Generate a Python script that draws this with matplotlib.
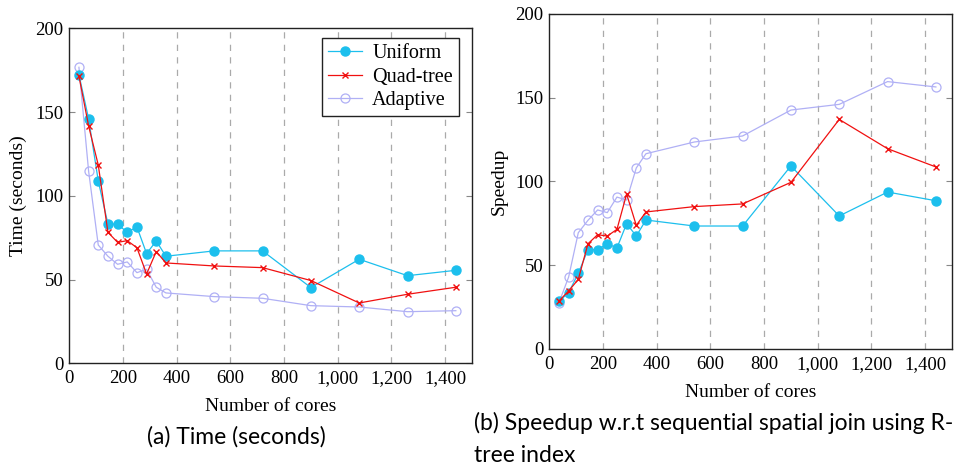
"""Time and speedup of the spatial join by number of cores (two panels)."""

import matplotlib
matplotlib.use("Agg")
import matplotlib.pyplot as plt

cores = [36, 72, 108, 144, 180, 216, 252, 288, 324, 360, 540, 720, 900, 1080, 1260, 1440]

time_uniform = [172.3, 146.0, 108.9, 83.2, 83.0, 78.2, 81.4, 65.5, 73.0, 63.9,
                67.1, 67.1, 45.2, 62.1, 52.3, 55.5]
time_quadtree = [171.5, 141.7, 118.4, 78.2, 72.2, 73.2, 69.0, 53.3, 66.7, 59.9,
                 58.1, 57.1, 49.4, 36.0, 41.2, 45.4]
time_adaptive = [176.7, 114.8, 70.6, 63.9, 59.1, 60.5, 54.1, 56.1, 45.4, 42.0,
                 39.8, 38.8, 34.4, 33.6, 30.8, 31.4]

speed_uniform = [28.3, 33.5, 45.0, 59.2, 59.2, 62.7, 60.2, 74.7, 67.3, 76.9,
                 73.3, 73.3, 109.2, 79.3, 93.6, 88.4]
speed_quadtree = [28.5, 34.5, 41.4, 62.7, 68.1, 67.3, 71.3, 92.4, 73.7, 81.7,
                  84.9, 86.5, 99.4, 137.0, 119.5, 108.6]
speed_adaptive = [27.5, 42.8, 69.3, 76.7, 82.9, 81.3, 90.6, 88.8, 108.0, 116.5,
                  123.5, 127.1, 142.6, 146.0, 159.6, 156.4]

x_ticks = [0, 200, 400, 600, 800, 1000, 1200, 1400]
y_ticks = [0, 50, 100, 150, 200]

SERIF = ["Liberation Serif", "DejaVu Serif"]
CAPTION = ["Lato", "DejaVu Sans"]
plt.rcParams["font.family"] = SERIF

CYAN = "#1cbfed"
RED = "#f01010"
LAVENDER = "#b0b0f5"


def draw_panel(ax, uniform, quadtree, adaptive, ylabel):
    ax.plot(cores, uniform, color=CYAN, lw=0.9, marker="o", ms=6.5,
            mfc=CYAN, mec=CYAN, label="Uniform", zorder=3)
    ax.plot(cores, quadtree, color=RED, lw=0.9, marker="x", ms=4, mew=1.0,
            label="Quad-tree", zorder=4)
    ax.plot(cores, adaptive, color=LAVENDER, lw=0.9, marker="o", ms=6.5,
            mfc="none", mec=LAVENDER, mew=0.9, label="Adaptive", zorder=2)

    ax.set_xlim(0, 1500)
    ax.set_ylim(0, 200)
    ax.set_xticks(x_ticks)
    ax.set_xticklabels([f"{t:,}" for t in x_ticks])
    ax.set_yticks(y_ticks)
    ax.tick_params(labelsize=13.5)
    ax.tick_params(direction="in", length=4, color="#888888", top=True, right=True,
                   pad=4)
    ax.tick_params(axis="x", length=0, pad=5)
    for x in x_ticks[1:]:
        ax.axvline(x, color="#aaaaaa", lw=0.9, ls=(0, (5, 5)), zorder=1)
    for s in ax.spines.values():
        s.set_linewidth(1.0)
        s.set_color("#222222")
    ax.set_xlabel("Number of cores", fontsize=14, labelpad=8)
    ax.set_ylabel(ylabel, fontsize=14, labelpad=6)


fig = plt.figure(figsize=(9.62, 4.71), dpi=100)
ax1 = fig.add_axes([0.072, 0.2287, 0.4186, 0.7113])
ax2 = fig.add_axes([0.571, 0.2597, 0.4186, 0.7106])

draw_panel(ax1, time_uniform, time_quadtree, time_adaptive, "Time (seconds)")
draw_panel(ax2, speed_uniform, speed_quadtree, speed_adaptive, "Speedup")

leg = ax1.legend(loc="upper right", bbox_to_anchor=(0.968, 0.971), borderaxespad=0,
                 fancybox=False, framealpha=1, edgecolor="#222222",
                 prop={"size": 14.5}, handlelength=1.7, borderpad=0.3,
                 labelspacing=0.22, handletextpad=0.5)
leg.get_frame().set_linewidth(1.0)

fig.text(236 / 962, 1 - 437 / 471, "(a) Time (seconds)", family=CAPTION,
         fontsize=16.5, ha="center", va="center")
fig.text(474 / 962, 1 - 423 / 471, "(b) Speedup w.r.t sequential spatial join using R-",
         family=CAPTION, fontsize=16.5, ha="left", va="center")
fig.text(474 / 962, 1 - 456 / 471, "tree index", family=CAPTION, fontsize=16.5,
         ha="left", va="center")

fig.savefig("out.png", dpi=100)
